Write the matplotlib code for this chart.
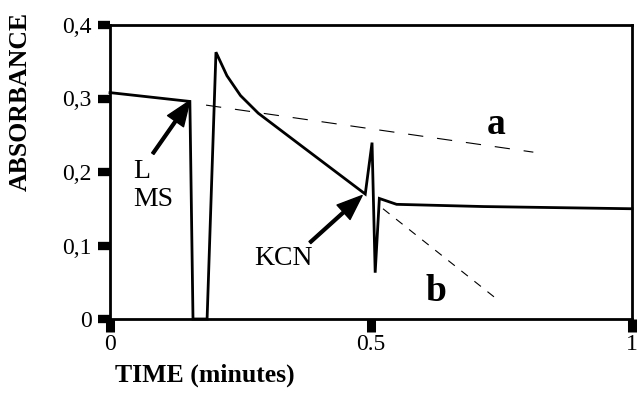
import matplotlib
matplotlib.use("Agg")
import matplotlib.pyplot as plt

plt.rcParams["font.family"] = ["Liberation Serif", "DejaVu Serif"]
plt.rcParams["lines.scale_dashes"] = False

# absorbance trace (time in minutes)
t = [0, 0.153, 0.159, 0.186, 0.203, 0.224, 0.25, 0.284, 0.364, 0.489,
     0.502, 0.508, 0.516, 0.549, 0.715, 1.0]
absb = [0.308, 0.296, 0.0, 0.0, 0.363, 0.331, 0.304, 0.280, 0.237, 0.170,
        0.240, 0.063, 0.164, 0.156, 0.153, 0.150]
# extrapolated baselines
a_t, a_y = [0.184, 0.811], [0.291, 0.227]
b_t, b_y = [0.523, 0.743], [0.150, 0.026]

yticks = [0, 0.1, 0.2, 0.3, 0.4]
ylabels = ["0", "0,1", "0,2", "0,3", "0,4"]
xticks = [0, 0.5, 1]
xlabels = ["0", "0.5", "1"]

fig = plt.figure(figsize=(6.38, 3.96), dpi=100)
ax = fig.add_axes([110/638, 1-319/396, 522/638, 294/396])
ax.plot(t, absb, color="black", lw=2.0, clip_on=False, solid_joinstyle="miter")
ax.plot(a_t, a_y, color="black", lw=0.8, dashes=(11, 10))
ax.plot(b_t, b_y, color="black", lw=0.8, dashes=(6, 6))
ax.set_xlim(0, 1); ax.set_ylim(0, 0.4)
for s in ax.spines.values(): s.set_linewidth(2.0)
ax.set_yticks(yticks); ax.set_yticklabels(ylabels)
ax.set_xticks(xticks); ax.set_xticklabels(xlabels)
ax.tick_params(axis="y", direction="out", length=9, width=6, pad=4, labelsize=17)
ax.tick_params(axis="x", direction="out", length=9, width=6.5, pad=2, labelsize=17)

ax.text(0.044, 0.192, "L", fontsize=20)
ax.text(0.044, 0.154, "MS", fontsize=20)
ax.annotate("", xy=(0.153, 0.297), xytext=(0.082, 0.225),
            arrowprops=dict(facecolor="black", edgecolor="black", width=2, headwidth=14, headlength=18, shrink=0))
ax.text(0.333, 0.082, "KCN", fontsize=20, ha="center", va="center")
ax.annotate("", xy=(0.483, 0.168), xytext=(0.383, 0.104),
            arrowprops=dict(facecolor="black", edgecolor="black", width=2, headwidth=14, headlength=18, shrink=0))
ax.text(0.739, 0.252, "a", fontsize=27, weight="bold", ha="center")
ax.text(0.625, 0.025, "b", fontsize=27, weight="bold", ha="center")

fig.text(20/638, 1-101/396, "ABSORBANCE", rotation=90, fontsize=18.5, weight="bold", ha="center", va="center")
fig.text(205/638, 1-375/396, "TIME (minutes)", fontsize=18.5, weight="bold", ha="center", va="center")
fig.savefig("out.png", dpi=100)
